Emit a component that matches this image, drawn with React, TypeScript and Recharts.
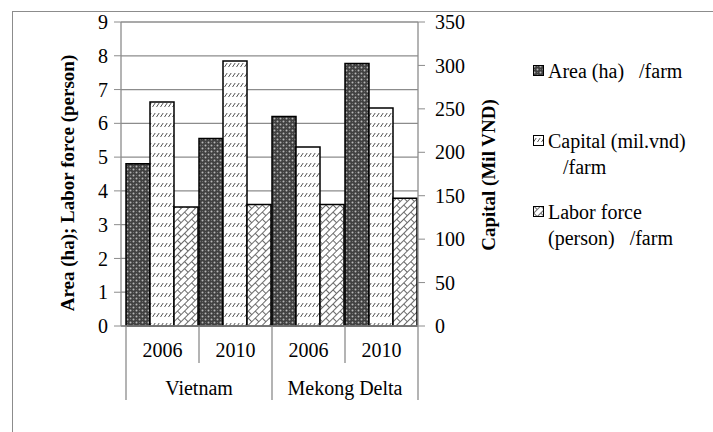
import { Bar, BarChart, CartesianGrid, XAxis, YAxis } from 'recharts'

const years = ['2006', '2010', '2006', '2010']
const groups = ['Vietnam', 'Vietnam', 'Mekong Delta', 'Mekong Delta']
const areaHa = [4.8, 5.55, 6.2, 7.77]
const capitalMil = [258, 305, 206, 251]
const laborPerson = [3.52, 3.6, 3.6, 3.78]
const leftTicks = [0, 1, 2, 3, 4, 5, 6, 7, 8, 9]
const rightTicks = [0, 50, 100, 150, 200, 250, 300, 350]

const data = years.map((y, i) => ({
  id: `${groups[i]}-${y}`,
  area: areaHa[i],
  capital: capitalMil[i],
  labor: laborPerson[i],
}))

const FONT = '"Liberation Serif", "Times New Roman", serif'
const AXIS = '#8c8c8c'
const FS = 20

function Patterns() {
  return (
    <defs>
      <pattern id="pArea" width="6" height="6" patternUnits="userSpaceOnUse">
        <rect width="6" height="6" fill="#404040" />
        <circle cx="1.5" cy="1.5" r="1" fill="#b8b8b8" />
        <circle cx="4.5" cy="4.5" r="1" fill="#b8b8b8" />
        <circle cx="4.5" cy="1.5" r="0.6" fill="#777" />
        <circle cx="1.5" cy="4.5" r="0.6" fill="#777" />
      </pattern>
      <pattern id="pCapital" width="4" height="10" patternUnits="userSpaceOnUse">
        <rect width="4" height="10" fill="#fff" />
        <line x1="0.5" y1="7" x2="3.2" y2="3" stroke="#555" strokeWidth="1" />
      </pattern>
      <pattern id="pLabor" width="10" height="10" patternUnits="userSpaceOnUse" patternTransform="rotate(-45)">
        <rect width="10" height="10" fill="#fff" />
        <path d="M0 0.5 H10 M0 5.5 H10 M0.5 0.5 V5.5 M5.5 5.5 V10" stroke="#6a6a6a" strokeWidth="1" fill="none" />
      </pattern>
    </defs>
  )
}

function YearTick(props: any) {
  const { x, y, index, payload } = props
  const half = payload?.offset ?? 36.5
  const right = x + half
  const groupEnd = index === years.length - 1 || groups[index] !== groups[index + 1]
  const groupStart = index === 0 || groups[index] !== groups[index - 1]
  let groupLabel = null
  if (groupStart) {
    let n = 1
    while (index + n < groups.length && groups[index + n] === groups[index]) n++
    const cx = x - half + half * n
    groupLabel = (
      <text x={cx} y={y + 69} textAnchor="middle" fontSize={FS} fontFamily={FONT} fill="#000">
        {groups[index]}
      </text>
    )
  }
  return (
    <g>
      {index === 0 && <line x1={x - half} y1={y} x2={x - half} y2={y + 74} stroke={AXIS} strokeWidth={1.3} />}
      <line x1={right} y1={y} x2={right} y2={groupEnd ? y + 74 : y + 37} stroke={AXIS} strokeWidth={1.3} />
      <text x={x} y={y + 31} textAnchor="middle" fontSize={FS} fontFamily={FONT} fill="#000">
        {years[index]}
      </text>
      {groupLabel}
    </g>
  )
}

function LeftTitle(props: any) {
  const vb = props.viewBox
  const cx = 74
  const cy = vb.y + vb.height / 2 + 9
  return (
    <text x={cx} y={cy} transform={`rotate(-90, ${cx}, ${cy})`} textAnchor="middle" fontSize={19} fontWeight="bold" fontFamily={FONT} fill="#000">
      Area (ha); Labor force (person)
    </text>
  )
}

function RightTitle(props: any) {
  const vb = props.viewBox
  const cx = vb.x + 77
  const cy = vb.y + vb.height / 2 + 1
  return (
    <text x={cx} y={cy} transform={`rotate(-90, ${cx}, ${cy})`} textAnchor="middle" fontSize={19} fontWeight="bold" fontFamily={FONT} fill="#000">
      Capital (Mil VND)
    </text>
  )
}

function LegendBox({ fill }: { fill: string }) {
  return (
    <svg width="11" height="11" style={{ position: 'absolute', left: 0, top: 7 }}>
      <rect x="0.5" y="0.5" width="10" height="10" fill={fill} stroke="#000" strokeWidth="1" />
    </svg>
  )
}

const legendItems = [
  { fill: 'url(#pArea)', lines: ['Area (ha)   /farm'], top: 58 },
  { fill: 'url(#pCapital)', lines: ['Capital (mil.vnd)', '   /farm'], top: 128 },
  { fill: 'url(#pLabor)', lines: ['Labor force', '(person)   /farm'], top: 199 },
]

export default function App() {
  return (
    <div style={{ position: 'absolute', left: 0, top: 0, width: 713, height: 432, overflow: 'hidden', background: '#fff' }}>
      <div style={{ position: 'absolute', left: 12, top: 11, width: 720, height: 440, border: '1.5px solid #8c8c8c' }} />
      <div style={{ position: 'absolute', left: 0, top: 0 }}>
        <BarChart width={713} height={432} data={data} margin={{ top: 22, right: 0, bottom: 0, left: 0 }} barCategoryGap={0} barGap={0}>
          <Patterns />
          <CartesianGrid yAxisId="left" vertical={false} stroke={AXIS} strokeWidth={1.3} />
          <XAxis
            dataKey="id"
            height={106}
            padding={{ left: 5, right: 0 }}
            tickLine={false}
            tickSize={0}
            tickMargin={0}
            tick={<YearTick />}
            interval={0}
            axisLine={{ stroke: AXIS, strokeWidth: 1.3 }}
          />
          <YAxis
            yAxisId="left"
            width={121}
            domain={[0, 9]}
            ticks={leftTicks}
            tickSize={7}
            tickMargin={6}
            tick={{ fontSize: FS, fontFamily: FONT, fill: '#000' }}
            tickLine={{ stroke: AXIS }}
            axisLine={{ stroke: AXIS, strokeWidth: 1.3 }}
            label={{ content: <LeftTitle /> }}
          />
          <YAxis
            yAxisId="right"
            orientation="right"
            width={295}
            domain={[0, 350]}
            ticks={rightTicks}
            tickSize={7}
            tickMargin={10}
            tick={{ fontSize: FS, fontFamily: FONT, fill: '#000', textAnchor: 'start' }}
            tickLine={{ stroke: AXIS }}
            axisLine={{ stroke: AXIS, strokeWidth: 1.3 }}
            label={{ content: <RightTitle /> }}
          />
          <Bar dataKey="area" yAxisId="left" fill="url(#pArea)" stroke="#000" strokeWidth={1.5} isAnimationActive={false} />
          <Bar dataKey="capital" yAxisId="right" fill="url(#pCapital)" stroke="#000" strokeWidth={1.5} isAnimationActive={false} />
          <Bar dataKey="labor" yAxisId="left" fill="url(#pLabor)" stroke="#000" strokeWidth={1.5} isAnimationActive={false} />
        </BarChart>
      </div>
      {legendItems.map((it) => (
        <div key={it.lines[0]} style={{ position: 'absolute', left: 533, top: it.top, fontFamily: FONT, fontSize: FS, lineHeight: '26px', whiteSpace: 'pre', color: '#000' }}>
          <LegendBox fill={it.fill} />
          {it.lines.map((l) => (
            <div key={l} style={{ paddingLeft: 15 }}>{l}</div>
          ))}
        </div>
      ))}
    </div>
  )
}
